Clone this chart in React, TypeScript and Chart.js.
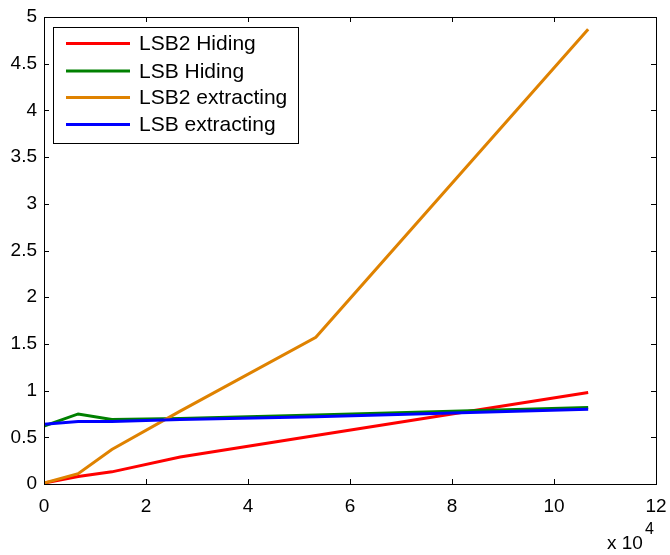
import React, { useEffect, useRef } from "react";
import { Chart, registerables } from "chart.js";

Chart.register(...registerables);

const xValues = [0, 0.67, 1.33, 2.67, 5.33, 10.67];
const lsb2Hiding = [0.01, 0.08, 0.13, 0.29, 0.52, 0.98];
const lsbHiding = [0.62, 0.75, 0.69, 0.7, 0.74, 0.82];
const lsb2Extracting = [0.01, 0.11, 0.37, 0.78, 1.57, 4.87];
const lsbExtracting = [0.64, 0.67, 0.67, 0.69, 0.72, 0.8];

const seriesNames = ["LSB2 Hiding", "LSB Hiding", "LSB2 extracting", "LSB extracting"];
const seriesColors = ["#FF0000", "#008000", "#DF8200", "#0000FF"];
const seriesValues = [lsb2Hiding, lsbHiding, lsb2Extracting, lsbExtracting];

const xTicks = [0, 2, 4, 6, 8, 10, 12];
const yTicks = [0, 0.5, 1, 1.5, 2, 2.5, 3, 3.5, 4, 4.5, 5];
const yTickLabels = ["0", "0.5", "1", "1.5", "2", "2.5", "3", "3.5", "4", "4.5", "5"];
const xTickLabels = ["0", "2", "4", "6", "8", "10", "12"];

const FONT = "Liberation Sans, Arial, sans-serif";

const framePlugin = {
  id: "frame",
  afterDraw(chart: any) {
    const { ctx, chartArea } = chart;
    const { left, right, top, bottom } = chartArea;
    const xs = chart.scales.x;
    const ys = chart.scales.y;
    ctx.save();
    ctx.strokeStyle = "#000";
    ctx.lineWidth = 1;
    ctx.strokeRect(left + 0.5, top + 0.5, right - left, bottom - top);
    const tl = 5;
    ctx.beginPath();
    for (const v of xTicks) {
      const px = Math.round(xs.getPixelForValue(v)) + 0.5;
      ctx.moveTo(px, bottom);
      ctx.lineTo(px, bottom - tl);
      ctx.moveTo(px, top);
      ctx.lineTo(px, top + tl);
    }
    for (const v of yTicks) {
      const py = Math.round(ys.getPixelForValue(v)) + 0.5;
      ctx.moveTo(left, py);
      ctx.lineTo(left + tl, py);
      ctx.moveTo(right, py);
      ctx.lineTo(right - tl, py);
    }
    ctx.stroke();

    // exponent label
    ctx.fillStyle = "#000";
    ctx.textBaseline = "alphabetic";
    ctx.textAlign = "left";
    ctx.font = `19px ${FONT}`;
    ctx.fillText("x 10", 607, 549);
    ctx.font = `16px ${FONT}`;
    ctx.fillText("4", 645, 534);

    // legend
    const lx = 53, ly = 27, lw = 245, lh = 116;
    ctx.fillStyle = "#fff";
    ctx.fillRect(lx, ly, lw, lh);
    ctx.strokeStyle = "#000";
    ctx.lineWidth = 1;
    ctx.strokeRect(lx + 0.5, ly + 0.5, lw, lh);
    const rows = [43.5, 71, 97.5, 124.5];
    ctx.font = `21px ${FONT}`;
    ctx.textBaseline = "middle";
    seriesNames.forEach((name, i) => {
      ctx.strokeStyle = seriesColors[i];
      ctx.lineWidth = 3;
      ctx.beginPath();
      ctx.moveTo(66, rows[i]);
      ctx.lineTo(130, rows[i]);
      ctx.stroke();
      ctx.fillStyle = "#000";
      ctx.fillText(name, 139, rows[i] + 1);
    });
    ctx.restore();
  },
};

export default function App() {
  const ref = useRef<HTMLCanvasElement | null>(null);
  useEffect(() => {
    if (!ref.current) return;
    const chart = new Chart(ref.current, {
      type: "line",
      data: {
        datasets: seriesNames.map((name, i) => ({
          label: name,
          data: xValues.map((x, j) => ({ x, y: seriesValues[i][j] })),
          borderColor: seriesColors[i],
          backgroundColor: seriesColors[i],
          borderWidth: 3,
          pointRadius: 0,
          tension: 0,
          fill: false,
          order: 4 - i,
        })),
      },
      options: {
        responsive: false,
        animation: false,
        events: [],
        layout: { padding: { top: 17, right: 14, left: 0, bottom: 0 } },
        plugins: { legend: { display: false }, tooltip: { enabled: false } },
        scales: {
          x: {
            type: "linear",
            min: 0,
            max: 12,
            grid: { display: false, drawTicks: false },
            border: { display: false },
            afterBuildTicks: (s: any) => {
              s.ticks = xTicks.map((v) => ({ value: v }));
            },
            afterFit: (s: any) => {
              s.height = 71;
              s.paddingLeft = 0;
              s.paddingRight = 0;
            },
            ticks: {
              padding: 11,
              color: "#000",
              font: { family: FONT, size: 19 },
              maxRotation: 0,
              autoSkip: false,
              callback: (v: any) => xTickLabels[xTicks.indexOf(Number(v))] ?? "",
            },
          },
          y: {
            type: "linear",
            min: 0,
            max: 5,
            grid: { display: false, drawTicks: false },
            border: { display: false },
            afterBuildTicks: (s: any) => {
              s.ticks = yTicks.map((v) => ({ value: v }));
            },
            afterFit: (s: any) => {
              s.width = 44;
              s.paddingTop = 0;
              s.paddingBottom = 0;
            },
            ticks: {
              padding: 7,
              color: "#000",
              font: { family: FONT, size: 19 },
              autoSkip: false,
              callback: (v: any) => yTickLabels[yTicks.indexOf(Number(v))] ?? "",
            },
          },
        },
      },
      plugins: [framePlugin],
    });
    return () => chart.destroy();
  }, []);
  return (
    <div style={{ position: "fixed", left: 0, top: 0, width: 670, height: 555, background: "#fff" }}>
      <canvas ref={ref} width={670} height={555} style={{ display: "block" }} />
    </div>
  );
}
